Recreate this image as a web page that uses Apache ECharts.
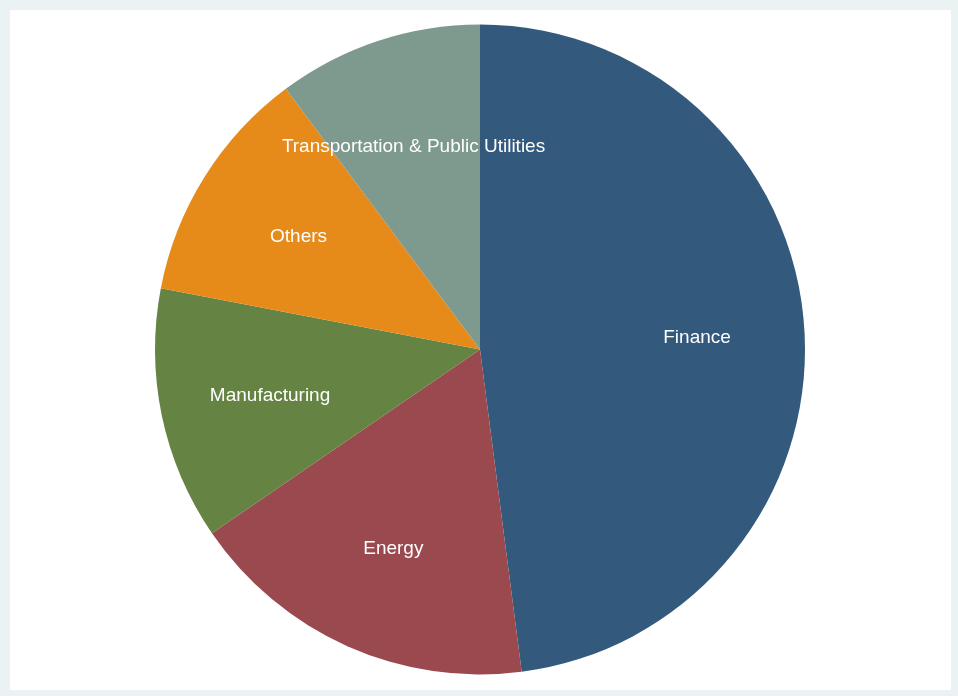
<!DOCTYPE html>
<html>
<head>
<meta charset="utf-8">
<script src="https://cdn.jsdelivr.net/npm/echarts@6/dist/echarts.min.js"></script>
<style>
  html, body { margin: 0; padding: 0; background: #eaf2f3; }
  #chart { width: 958px; height: 696px; }
</style>
</head>
<body>
<div id="chart"></div>
<script>
// Sector shares (percent), clockwise from 12 o'clock
const sectors = ['Finance', 'Energy', 'Manufacturing', 'Others', 'Transportation & Public Utilities'];
const shares = [48.0, 17.5, 12.6, 11.8, 10.2];
const colors = ['#33597d', '#9a494f', '#658342', '#e68a1a', '#7e998e'];

const pieData = sectors.map((name, i) => ({ name, value: shares[i], itemStyle: { color: colors[i] } }));

const chart = echarts.init(document.getElementById('chart'), null, { renderer: 'canvas' });
const R = 325;
const center = [480, 349.5];

chart.setOption({
  animation: false,
  backgroundColor: '#eaf2f3',
  graphic: [{
    type: 'rect',
    z: -10,
    silent: true,
    shape: { x: 10, y: 10, width: 941, height: 680 },
    style: { fill: '#ffffff' }
  }],
  series: [
    {
      // filled slices
      type: 'pie',
      center: center,
      radius: [0, R],
      startAngle: 90,
      clockwise: true,
      silent: true,
      label: { show: false },
      labelLine: { show: false },
      itemStyle: { borderWidth: 0 },
      data: pieData
    },
    {
      // transparent ring that places the names at about two thirds of the radius
      type: 'pie',
      center: center,
      radius: [101, R],
      startAngle: 90,
      clockwise: true,
      silent: true,
      z: 5,
      itemStyle: { color: 'rgba(0,0,0,0)', borderWidth: 0 },
      label: {
        show: true,
        position: 'inside',
        color: '#ffffff',
        fontFamily: 'Liberation Sans, Arial, sans-serif',
        fontSize: 19,
        offset: [1.5, 2],
        formatter: '{b}'
      },
      labelLine: { show: false },
      data: sectors.map((name, i) => ({ name, value: shares[i] }))
    }
  ]
});
</script>
</body>
</html>
